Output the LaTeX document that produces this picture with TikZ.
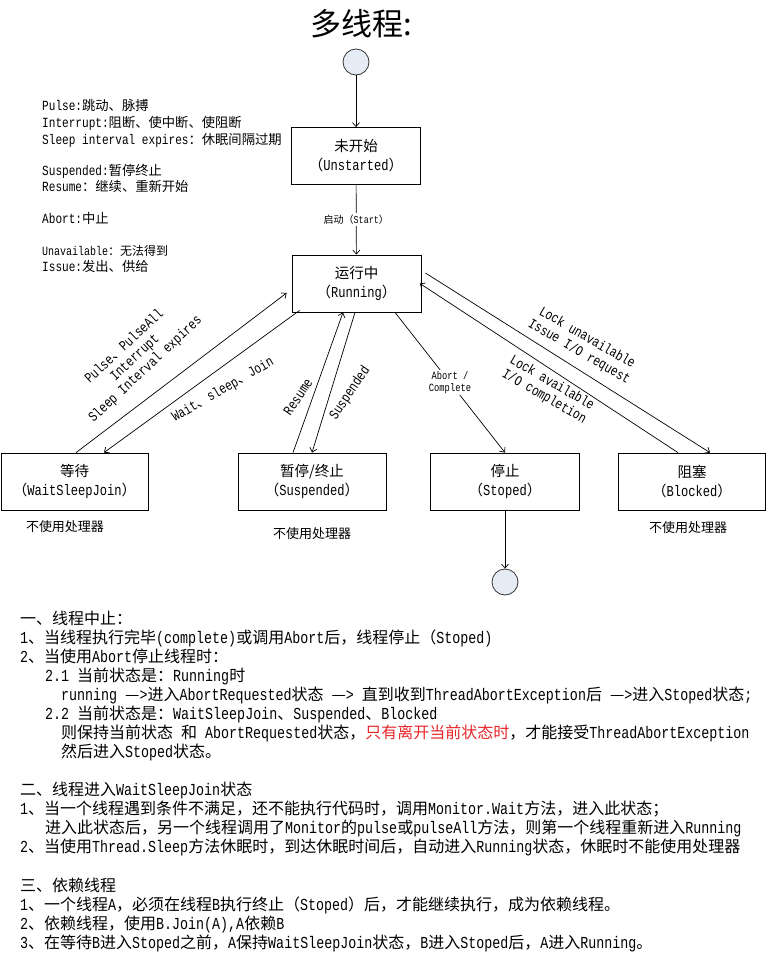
\documentclass[tikz,border=0pt]{standalone}
\usepackage{fontspec}
\setmainfont{Liberation Mono}[Scale=1.05, FakeStretch=0.794]
\newfontfamily\cjk{Noto Sans CJK SC}
\newcommand\C[1]{{\cjk #1}}
\usetikzlibrary{arrows.meta}
\definecolor{circfill}{HTML}{E6ECF6}
\definecolor{redtxt}{HTML}{E8262A}
\tikzset{
  state/.style={draw=black, line width=0.8pt, minimum width=#1, minimum height=57pt,
    inner sep=0pt, align=center, font=\fontsize{14.5}{19}\selectfont},
  terminal/.style={circle, draw=black!80, fill=circfill, minimum size=26pt, inner sep=0pt, line width=0.8pt},
  conn/.style={line width=0.7pt, -{Straight Barb[length=4pt,width=7pt]}},
  txt/.style={anchor=west, inner sep=0pt, font=\fontsize{16}{19}\selectfont, text height=12pt, text depth=3.5pt},
  leg/.style={anchor=west, inner sep=0pt, font=\fontsize{13.3}{16}\selectfont, text height=10pt, text depth=3pt},
  lbl/.style={inner sep=0pt, align=center, font=\fontsize{13.5}{15.5}\selectfont},
  note/.style={inner sep=0pt, font=\fontsize{13}{15}\selectfont},
}
\begin{document}
\begin{tikzpicture}[x=1pt,y=-1pt]
\useasboundingbox (0,0) rectangle (766,956);

% title
\node[anchor=west, inner sep=0pt, font=\fontsize{31}{34}\selectfont\cjk] (title) at (310,24) {多线程:};

% legend
\node[leg] (l1) at (42,107) {Pulse:\C{跳动、脉搏}};
\node[leg] (l2) at (42,124) {Interrupt:\C{阻断、使中断、使阻断}};
\node[leg] (l3) at (42,141) {Sleep interval expires\C{：休眠间隔过期}};
\node[leg] (l4) at (42,172) {Suspended:\C{暂停终止}};
\node[leg] (l5) at (42,188) {Resume\C{：继续、重新开始}};
\node[leg] (l6) at (42,220) {Abort:\C{中止}};
\node[leg, font=\fontsize{12}{15}\selectfont] (l7) at (42,252) {Unavailable\C{：无法得到}};
\node[leg] (l8) at (42,268) {Issue:\C{发出、供给}};

% states
\node[terminal] (start) at (356,62) {};
\node[state=129pt] (unstarted) at (356,156) {\C{未开始}\\\C{（}Unstarted\C{）}};
\node[state=129pt] (running) at (356.5,283.5) {\C{运行中}\\\C{（}Running\C{）}};
\node[state=147pt] (wait) at (74.5,481.5) {\C{等待}\\\C{（}WaitSleepJoin\C{）}};
\node[state=148pt] (susp) at (312,481.5) {\C{暂停/终止}\\\C{（}Suspended\C{）}};
\node[state=149pt] (stoped) at (505,481.5) {\C{停止}\\\C{（}Stoped\C{）}};
\node[state=147pt] (blocked) at (692,481.5) {\C{阻塞}\\\C{（}Blocked\C{）}};
\node[terminal] (end) at (505,582) {};

% notes under states
\node[note] (n1) at (65,527) {\C{不使用处理器}};
\node[note] (n2) at (312,534) {\C{不使用处理器}};
\node[note] (n3) at (688,528) {\C{不使用处理器}};

% connectors
\draw[conn] (start) -- (unstarted);
\draw[conn] (unstarted) -- node[fill=white, inner sep=1.5pt, font=\fontsize{10}{12}\selectfont] (startlbl) {\C{启动（}Start\C{）}} (running);
\draw[conn] ([xshift=1.5pt]wait.north) -- ([xshift=-5pt,yshift=-9.5pt]running.west);
\draw[conn] ([xshift=8pt,yshift=2pt]running.south west) -- ([xshift=29.5pt]wait.north);
\draw[conn] ([xshift=-19pt]susp.north) -- ([xshift=-13.5pt]running.south);
\draw[conn] ([xshift=-1.5pt]running.south) -- (susp.north);
\draw[conn] ([xshift=38.5pt]running.south) -- node[fill=white, inner sep=1pt, align=center, font=\fontsize{10.5}{12.5}\selectfont] (abortlbl) {Abort /\\Complete} (stoped.north);
\draw[conn] ([xshift=4pt,yshift=10.5pt]running.east) -- ([xshift=18pt]blocked.north);
\draw[conn] ([xshift=-14pt]blocked.north) -- ([xshift=-1.5pt]running.east);
\draw[conn] (stoped) -- (end);

% connector labels
\node[lbl, rotate=43] (pulselbl) at (135,358) {Pulse\C{、}PulseAll\\Interrupt\\Sleep Interval expires};
\node[lbl, rotate=30] (waitlbl) at (223,390) {Wait\C{、}sleep\C{、}Join};
\node[lbl, rotate=56] (resumelbl) at (298,397) {Resume};
\node[lbl, rotate=56] (susplbl) at (350,393) {Suspended};
\node[lbl, rotate=-30, font=\fontsize{13.5}{16}\selectfont] (locku) at (583,345) {Lock unavailable\\Issue I/O request};
\node[lbl, rotate=-30] (locka) at (548,390) {Lock available\\I/O completion};

% text section 1
\node[txt] (t1) at (20,620) {\C{一、线程中止：}};
\node[txt] (t2) at (20,639) {1\C{、当线程执行完毕}(complete)\C{或调用}Abort\C{后，线程停止（}Stoped)};
\node[txt] (t3) at (20,658) {2\C{、当使用}Abort\C{停止线程时：}};
\node[txt] (t4) at (45,677) {2.1 \C{当前状态是：}Running\C{时}};
\node[txt] (t5) at (61,696) {running \C{—}>\C{进入}AbortRequested\C{状态} \C{—}> \C{直到收到}ThreadAbortException\C{后} \C{—}>\C{进入}Stoped\C{状态};};
\node[txt] (t6) at (45,715) {2.2 \C{当前状态是：}WaitSleepJoin\C{、}Suspended\C{、}Blocked};
\node[txt] (t7) at (61,734) {\C{则保持当前状态} \C{和} AbortRequested\C{状态，}\textcolor{redtxt}{\C{只有离开当前状态时}}\C{，才能接受}ThreadAbortException};
\node[txt] (t8) at (61,753) {\C{然后进入}Stoped\C{状态。}};

% text section 2
\node[txt] (t9) at (20,791) {\C{二、线程进入}WaitSleepJoin\C{状态}};
\node[txt] (t10) at (20,810) {1\C{、当一个线程遇到条件不满足，还不能执行代码时，调用}Monitor.Wait\C{方法，进入此状态；}};
\node[txt] (t11) at (45,829) {\C{进入此状态后，另一个线程调用了}Monitor\C{的}pulse\C{或}pulseAll\C{方法，则第一个线程重新进入}Running};
\node[txt] (t12) at (20,848) {2\C{、当使用}Thread.Sleep\C{方法休眠时，到达休眠时间后，自动进入}Running\C{状态，休眠时不能使用处理器}};

% text section 3
\node[txt] (t13) at (20,887) {\C{三、依赖线程}};
\node[txt] (t14) at (20,906) {1\C{、一个线程}A\C{，必须在线程}B\C{执行终止（}Stoped\C{）后，才能继续执行，成为依赖线程。}};
\node[txt] (t15) at (20,925) {2\C{、依赖线程，使用}B.Join(A),A\C{依赖}B};
\node[txt] (t16) at (20,944) {3\C{、在等待}B\C{进入}Stoped\C{之前，}A\C{保持}WaitSleepJoin\C{状态，}B\C{进入}Stoped\C{后，}A\C{进入}Running\C{。}};
\end{tikzpicture}
\end{document}
